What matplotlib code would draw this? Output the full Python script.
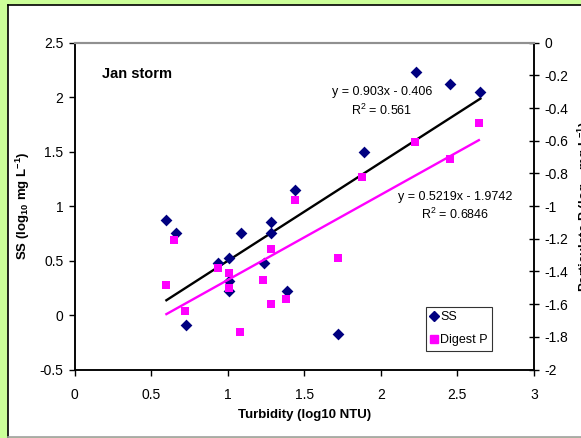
import matplotlib
matplotlib.use("Agg")
import matplotlib.pyplot as plt
from matplotlib.lines import Line2D
from matplotlib.ticker import FuncFormatter, MultipleLocator

plt.rcParams["font.family"] = ["Liberation Sans", "DejaVu Sans"]
plt.rcParams["mathtext.fontset"] = "custom"
plt.rcParams["mathtext.rm"] = "Liberation Sans"
plt.rcParams["mathtext.bf"] = "Liberation Sans:bold"
plt.rcParams["axes.unicode_minus"] = False

# turbidity vs suspended solids (left axis)
ss_turb = [0.60, 0.66, 0.73, 0.94, 1.01, 1.01, 1.01, 1.09, 1.28, 1.28,
           1.24, 1.39, 1.44, 1.72, 1.89, 2.23, 2.45, 2.65]
ss_vals = [0.87, 0.75, -0.09, 0.48, 0.52, 0.31, 0.22, 0.75, 0.85, 0.75,
           0.48, 0.22, 1.15, -0.17, 1.50, 2.23, 2.12, 2.05]

# turbidity vs digested particulate P (right axis)
p_turb = [0.60, 0.65, 0.72, 0.94, 1.01, 1.01, 1.08, 1.23, 1.28, 1.28,
          1.38, 1.72, 1.44, 1.88, 2.22, 2.45, 2.64]
p_vals = [-1.48, -1.21, -1.64, -1.38, -1.41, -1.50, -1.77, -1.45, -1.26, -1.60,
          -1.57, -1.32, -0.96, -0.82, -0.61, -0.71, -0.49]

# linear fits shown on the chart
ss_fit = (0.903, -0.406, 0.561)
p_fit = (0.5219, -1.9742, 0.6846)

NAVY = "#000080"
MAGENTA = "#FF00FF"

fig = plt.figure(figsize=(5.81, 4.38), dpi=100, facecolor="#CCFF99")

# white chart area with its border, kept behind the axes
fw, fh = 581, 438
fig.patches.append(plt.Rectangle((8 / fw, 1 / fh), 1.0, (437 - 5) / fh,
                                 transform=fig.transFigure, facecolor="white",
                                 edgecolor="none", zorder=-10))
fig.lines.append(Line2D([8 / fw, 8 / fw], [1 / fh, 1 - 5 / fh],
                        transform=fig.transFigure, color="black", lw=1.2, zorder=-9))
fig.lines.append(Line2D([8 / fw, 1], [1 - 5 / fh, 1 - 5 / fh],
                        transform=fig.transFigure, color="black", lw=1.2, zorder=-9))
fig.lines.append(Line2D([8 / fw, 1], [1.5 / fh, 1.5 / fh],
                        transform=fig.transFigure, color="#a0a0a0", lw=1.2, zorder=-9))

ax = fig.add_axes([74.5 / fw, 68.5 / fh, 459.5 / fw, 326.8 / fh])
ax2 = ax.twinx()

ax.scatter(ss_turb, ss_vals, marker="D", s=36, color=NAVY, zorder=3,
           linewidths=0, label="SS")
ax2.scatter(p_turb, p_vals, marker="s", s=38, color=MAGENTA, zorder=3,
            linewidths=0, label="Digest P")

xs = [min(ss_turb), max(ss_turb)]
ax.plot(xs, [ss_fit[0] * x + ss_fit[1] for x in xs], color="black", lw=1.7, zorder=2)
xp = [min(p_turb), max(p_turb)]
ax2.plot(xp, [p_fit[0] * x + p_fit[1] for x in xp], color=MAGENTA, lw=1.7, zorder=2)

ax.set_xlim(0, 3)
ax.set_ylim(-0.5, 2.5)
ax2.set_ylim(-2, 0)
ax.xaxis.set_major_locator(MultipleLocator(0.5))
ax.yaxis.set_major_locator(MultipleLocator(0.5))
ax2.yaxis.set_major_locator(MultipleLocator(0.2))
fmt = FuncFormatter(lambda v, _: f"{round(v, 2):g}")
ax.xaxis.set_major_formatter(fmt)
ax.yaxis.set_major_formatter(fmt)
ax2.yaxis.set_major_formatter(fmt)

ax.tick_params(axis="both", labelsize=10, length=4, width=1, direction="out")
ax.tick_params(axis="x", pad=9)
ax.tick_params(axis="y", pad=4)
ax2.tick_params(axis="y", labelsize=10, length=7, width=1, direction="inout", pad=4)

for a in (ax, ax2):
    a.spines["top"].set_color("#909090")
    a.spines["top"].set_linewidth(1.5)
    for side in ("left", "right", "bottom"):
        a.spines[side].set_linewidth(1.1)
ax2.patch.set_visible(False)

ax.set_xlabel("Turbidity (log10 NTU)", fontsize=9.5, fontweight="bold")
ax.xaxis.set_label_coords(0.5, -0.12)
ax.set_ylabel(r"SS (log$_{\mathbf{10}}$ mg L$^{\mathbf{-1}}$)", fontsize=9.5,
              fontweight="bold")
ax.yaxis.set_label_coords(-0.093, 0.5)
ax2.set_ylabel(r"Particulate P (log$_{\mathbf{10}}$ mg L$^{\mathbf{-1}}$)",
               fontsize=9.5, fontweight="bold")
ax2.yaxis.set_label_coords(1.09, 0.5)

ax.text(0.178, 2.213, "Jan storm", fontsize=10.5, fontweight="bold",
        ha="left", va="center")
ax.text(2.008, 2.045, f"y = {ss_fit[0]}x - {abs(ss_fit[1])}", fontsize=9,
        ha="center", va="center")
ax.text(2.008, 1.882, f"R$^2$ = {ss_fit[2]}", fontsize=9, ha="center", va="center")
ax.text(2.487, 1.087, f"y = {p_fit[0]}x - {abs(p_fit[1])}", fontsize=9,
        ha="center", va="center")
ax.text(2.487, 0.925, f"R$^2$ = {p_fit[2]}", fontsize=9, ha="center", va="center")

handles = [
    Line2D([], [], marker="D", color=NAVY, ls="none", markersize=5),
    Line2D([], [], marker="s", color=MAGENTA, ls="none", markersize=6),
]
leg = ax2.legend(handles, ["SS", "Digest P"], loc="lower left",
                 bbox_to_anchor=(0.766, 0.0575), fontsize=9, frameon=True,
                 fancybox=False, handlelength=0.5, handletextpad=0.25,
                 borderpad=0.35, labelspacing=0.9, borderaxespad=0)
leg.get_frame().set_edgecolor("black")
leg.get_frame().set_linewidth(0.8)

fig.savefig("out.png", dpi=100, facecolor=fig.get_facecolor())
